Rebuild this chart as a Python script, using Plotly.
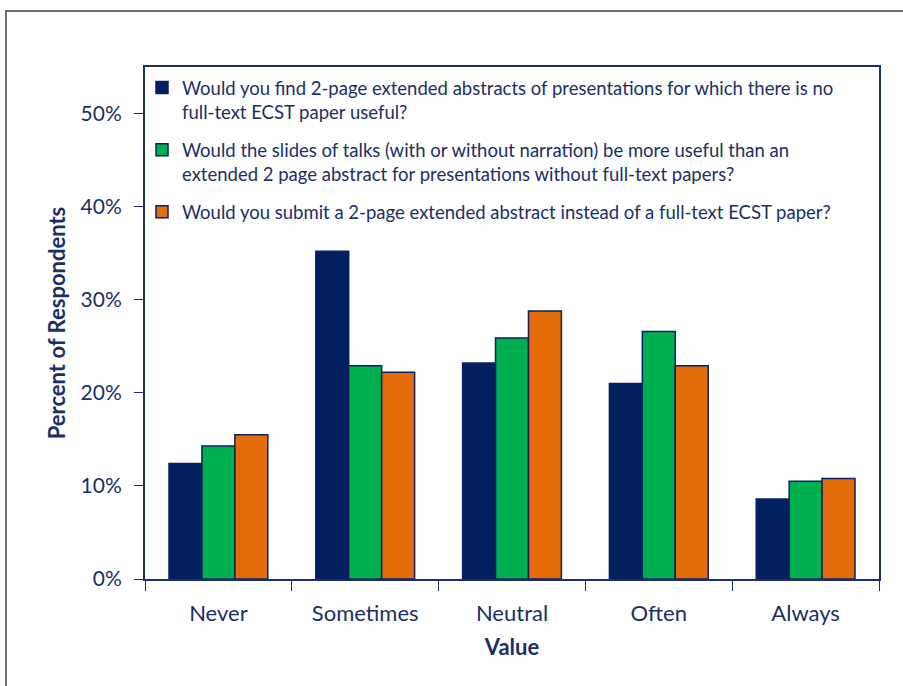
import plotly.graph_objects as go

categories = ["Never", "Sometimes", "Neutral", "Often", "Always"]

abstracts_useful = [0.124, 0.352, 0.232, 0.210, 0.086]
slides_more_useful = [0.143, 0.229, 0.259, 0.266, 0.105]
would_submit_abstract = [0.155, 0.222, 0.288, 0.229, 0.108]

series_names = [
    "Would you find 2-page extended abstracts of presentations for which there is no<br>full-text ECST paper useful?",
    "Would the slides of talks (with or without narration) be more useful than an<br>extended 2 page abstract for presentations without full-text papers?",
    "Would you submit a 2-page extended abstract instead of a full-text ECST paper?",
]
series_values = [abstracts_useful, slides_more_useful, would_submit_abstract]
series_colors = ["#002060", "#00B050", "#E46C0A"]

NAVY = "#1B2F66"
FONT = "Lato"

fig = go.Figure()
for i, (name, vals, col) in enumerate(zip(series_names, series_values, series_colors)):
    fig.add_trace(go.Bar(
        x=categories, y=vals, name=name,
        legendgroup=f"g{i}",
        marker=dict(color=col, line=dict(color="#0B2161", width=1.5)),
    ))

W, H = 903, 686
ml, mr, mt, mb = 145, 24, 67, 107
pw, ph = W - ml - mr, H - mt - mb

def px_x(x):
    return (x - ml) / pw

def px_y(y):
    return (H - mb - y) / ph

fig.update_layout(
    width=W, height=H,
    margin=dict(l=ml, r=mr, t=mt, b=mb),
    paper_bgcolor="white", plot_bgcolor="white",
    font=dict(family=FONT, color=NAVY, size=18),
    barmode="group", bargap=0.327, bargroupgap=0,
    showlegend=True,
    legend=dict(
        x=px_x(142), y=px_y(69), xanchor="left", yanchor="top",
        bgcolor="rgba(0,0,0,0)", borderwidth=0,
        font=dict(family=FONT, size=18.5, color=NAVY),
        valign="top", traceorder="grouped", tracegroupgap=11,
        itemwidth=30,
    ),
    xaxis=dict(
        showline=True, linecolor=NAVY, linewidth=2, mirror=True,
        ticks="outside", ticklen=10, tickcolor=NAVY, tickwidth=1,
        tickson="boundaries", ticklabelstandoff=14,
        tickfont=dict(family=FONT, size=22, color=NAVY),
        title=dict(text="<b>Value</b>", font=dict(family=FONT, size=22, color=NAVY), standoff=14),
    ),
    yaxis=dict(
        range=[0, 0.55], dtick=0.1, tickformat=".0%",
        showgrid=False, zeroline=False,
        showline=True, linecolor=NAVY, linewidth=2, mirror=True,
        ticks="outside", ticklen=9, tickcolor=NAVY, tickwidth=1,
        ticklabelstandoff=8,
        tickfont=dict(family=FONT, size=21, color=NAVY),
        title=dict(text="<b>Percent of Respondents</b>", font=dict(family=FONT, size=22, color=NAVY), standoff=9),
    ),
    shapes=[dict(
        type="rect", xref="paper", yref="paper", layer="below",
        x0=px_x(6), x1=px_x(W + 20), y0=px_y(H + 20), y1=px_y(11),
        line=dict(color="#6E7073", width=2), fillcolor="rgba(0,0,0,0)",
    )],
)

fig.write_html("out.html")
